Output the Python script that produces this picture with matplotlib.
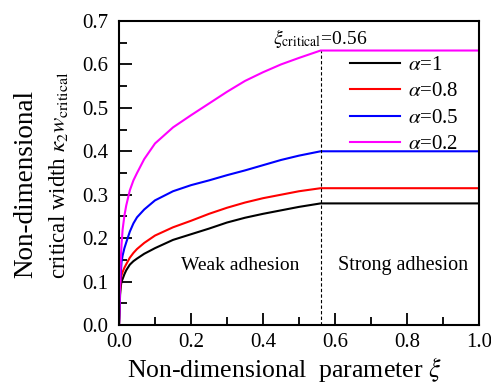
import matplotlib
matplotlib.use("Agg")
import matplotlib.pyplot as plt
from matplotlib.ticker import MultipleLocator

plt.rcParams["font.family"] = ["Liberation Serif", "DejaVu Serif"]
plt.rcParams["mathtext.fontset"] = "stix"

##################################################
# Data
xi = [0, 0.003, 0.005, 0.007, 0.01, 0.015, 0.02, 0.03, 0.04, 0.05, 0.07,
      0.1, 0.15, 0.2, 0.25, 0.3, 0.35, 0.4, 0.45, 0.5, 0.56, 1.0]
w_a1 = [0, 0.07, 0.090, 0.100, 0.106, 0.117, 0.126, 0.139, 0.147, 0.153,
        0.164, 0.177, 0.196, 0.209, 0.222, 0.236, 0.247, 0.256, 0.264,
        0.272, 0.280, 0.280]
w_a08 = [0, 0.08, 0.100, 0.115, 0.122, 0.132, 0.140, 0.155, 0.166, 0.175,
         0.189, 0.206, 0.225, 0.240, 0.256, 0.270, 0.282, 0.292, 0.300,
         0.308, 0.315, 0.315]
w_a05 = [0, 0.09, 0.120, 0.145, 0.160, 0.177, 0.190, 0.215, 0.234, 0.248,
         0.266, 0.287, 0.308, 0.322, 0.333, 0.345, 0.356, 0.368, 0.380,
         0.390, 0.400, 0.400]
w_a02 = [0, 0.10, 0.150, 0.185, 0.220, 0.252, 0.275, 0.310, 0.333, 0.350,
         0.382, 0.418, 0.455, 0.483, 0.510, 0.537, 0.562, 0.582, 0.600,
         0.615, 0.632, 0.632]
labels = [r"$\alpha$=1", r"$\alpha$=0.8", r"$\alpha$=0.5", r"$\alpha$=0.2"]
colors = ["black", "red", "blue", "magenta"]
xi_crit = 0.56

##################################################
# Plot
fig = plt.figure(figsize=(4.91, 3.85), dpi=100)
ax = fig.add_axes([0.2424, 0.1558, 0.7332, 0.7897])

for w, lab, c in zip([w_a1, w_a08, w_a05, w_a02], labels, colors):
    ax.plot(xi, w, color=c, lw=1.5, label=lab)

ax.vlines(xi_crit, 0, max(w_a02), colors="black", linestyles=(0, (3, 2)), lw=0.8)
ax.text(xi_crit, 0.634, r"$\xi_{\mathrm{critical}}$=0.56", ha="center", va="bottom",
        fontsize=14)
ax.text(0.336, 0.138, "Weak adhesion", ha="center", va="center", fontsize=14)
ax.text(0.79, 0.138, "Strong adhesion", ha="center", va="center", fontsize=14.5)

ax.set_xlim(0, 1)
ax.set_ylim(0, 0.7)
ax.xaxis.set_major_locator(MultipleLocator(0.2))
ax.xaxis.set_minor_locator(MultipleLocator(0.1))
ax.yaxis.set_major_locator(MultipleLocator(0.1))
ax.yaxis.set_minor_locator(MultipleLocator(0.05))
ax.xaxis.set_major_formatter(lambda v, p: f"{v:.1f}")
ax.yaxis.set_major_formatter(lambda v, p: f"{v:.1f}")
ax.tick_params(which="both", direction="in", width=1.3, labelsize=15,
               top=False, right=False)
ax.tick_params(which="major", length=9, pad=6)
ax.tick_params(axis="y", which="major", pad=8)
ax.tick_params(which="minor", length=5.5)
for s in ax.spines.values():
    s.set_linewidth(1.5)

ax.set_xlabel(r"Non-dimensional  parameter $\xi$", fontsize=18.5, labelpad=-1)
ax.xaxis.set_label_coords(0.458, -0.1)

# two-line y label, second line drawn smaller like the reference
fig.text(0.053, 0.523, "Non-dimensional", rotation=90, ha="center", va="center",
         fontsize=19.5)
fig.text(0.119, 0.545, r"critical width $\kappa_2 w_{\mathrm{critical}}$",
         rotation=90, ha="center", va="center", fontsize=16.5)

ax.legend(loc="upper right", bbox_to_anchor=(0.983, 0.935), frameon=False,
          fontsize=15, handlelength=2.4, labelspacing=0.33, borderpad=0.2,
          handletextpad=0.35)

fig.savefig("out.png", dpi=100)
